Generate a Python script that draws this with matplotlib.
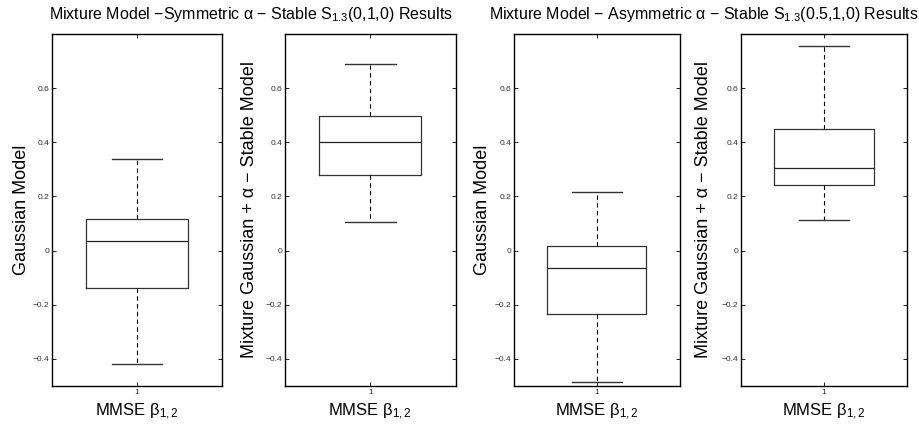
import matplotlib
matplotlib.use('Agg')
import matplotlib.pyplot as plt

plt.rcParams['font.family'] = ['Liberation Sans', 'DejaVu Sans']
plt.rcParams['mathtext.fontset'] = 'custom'
plt.rcParams['mathtext.rm'] = 'Liberation Sans'
plt.rcParams['mathtext.it'] = 'Liberation Sans'
plt.rcParams['mathtext.default'] = 'regular'

# box statistics (one box per panel)
panel_names = ['sym_gauss', 'sym_mix', 'asym_gauss', 'asym_mix']
whis_lo = [-0.42, 0.104, -0.485, 0.112]
q1 = [-0.137, 0.28, -0.235, 0.243]
med = [0.034, 0.401, -0.063, 0.305]
q3 = [0.115, 0.498, 0.016, 0.448]
whis_hi = [0.34, 0.689, 0.215, 0.757]

ylabels = ['Gaussian Model', 'Mixture Gaussian + α − Stable Model',
           'Gaussian Model', 'Mixture Gaussian + α − Stable Model']
xlabel = 'MMSE β$_{1,2}$'
titles = ['Mixture Model −Symmetric α − Stable S$_{1.3}$(0,1,0) Results',
          'Mixture Model − Asymmetric α − Stable S$_{1.3}$(0.5,1,0) Results']
yticks = [-0.4, -0.2, 0, 0.2, 0.4, 0.6]
yticklabels = ['−0.4', '−0.2', '0', '0.2', '0.4', '0.6']

fig = plt.figure(figsize=(9.19, 4.32), dpi=100)

# axes rectangles in pixels: left, width
rects = [(52, 170), (285, 170.5), (514, 165.5), (741, 166)]
label_x = [-0.129, -0.158, -0.139, -0.175]

for i in range(4):
    left, w = rects[i]
    ax = fig.add_axes([left / 919, 1 - 386 / 432, w / 919, 352 / 432])
    stats = [{'whislo': whis_lo[i], 'q1': q1[i], 'med': med[i],
              'q3': q3[i], 'whishi': whis_hi[i], 'fliers': []}]
    ax.bxp(stats, positions=[1], widths=0.6, capwidths=0.3,
           boxprops=dict(color='#333333', linewidth=0.9),
           medianprops=dict(color='#222222', linewidth=0.9),
           whiskerprops=dict(color='black', linewidth=0.8, linestyle=(0, (4, 3))),
           capprops=dict(color='#333333', linewidth=1.0))
    ax.set_xlim(0.5, 1.5)
    ax.set_ylim(-0.5, 0.8)
    ax.set_yticks(yticks)
    ax.set_yticklabels(yticklabels)
    ax.set_xticks([1])
    ax.set_xticklabels(['1'])
    ax.tick_params(direction='in', length=3, width=0.6, labelsize=6, pad=2,
                   top=True, right=True, colors='black', labelcolor='#333333')
    for s in ax.spines.values():
        s.set_linewidth(1.0)
    ax.set_ylabel(ylabels[i], fontsize=13)
    ax.yaxis.set_label_coords(label_x[i], 0.5)
    ax.set_xlabel(xlabel, fontsize=12, labelpad=4)

fig.text(251 / 919, 1 - 15 / 432, titles[0], ha='center', va='center', fontsize=11.5)
fig.text(704 / 919, 1 - 15 / 432, titles[1], ha='center', va='center', fontsize=11.5)

fig.savefig('out.png', dpi=100)
